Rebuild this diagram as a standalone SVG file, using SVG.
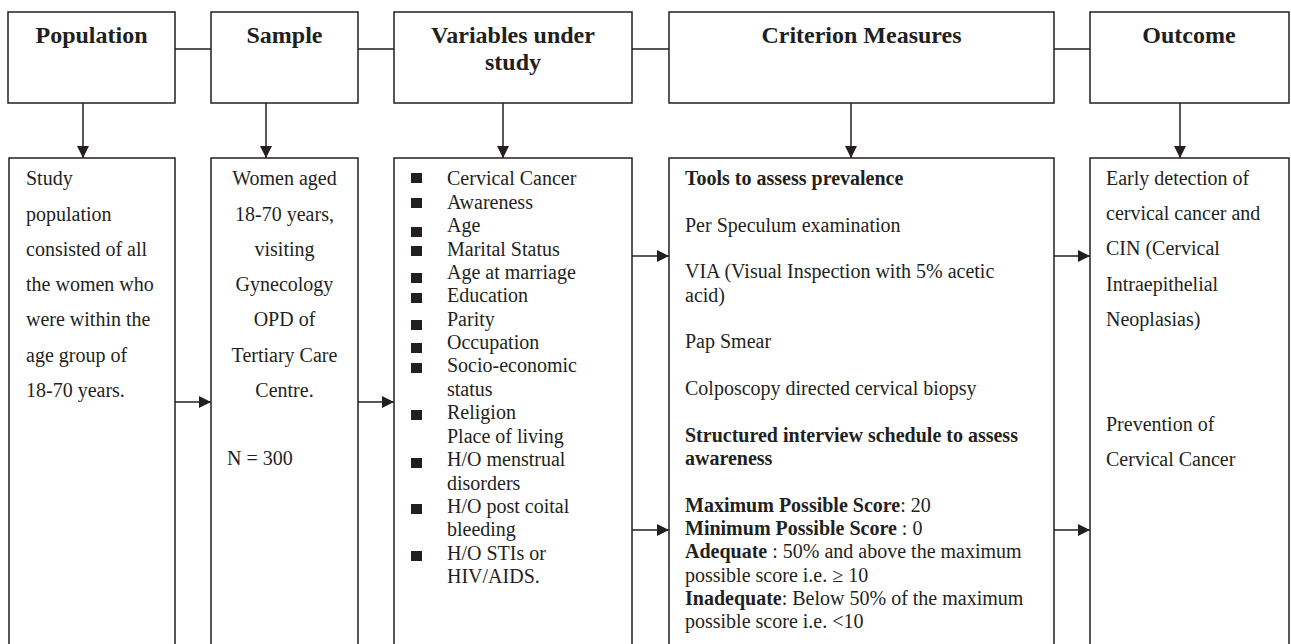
<svg xmlns="http://www.w3.org/2000/svg" width="1291" height="644" viewBox="0 0 1291 644">
<style>
.box{fill:#fff;stroke:#231f20;stroke-width:1.5}
.ln{stroke:#231f20;stroke-width:1.5;fill:none}
.hd{font-family:"Liberation Serif","Times New Roman",serif;font-size:24px;font-weight:bold;fill:#231f20;text-anchor:middle}
.tx{font-family:"Liberation Serif","Times New Roman",serif;font-size:20px;fill:#231f20}
.b{font-weight:bold}
.mid{text-anchor:middle}
.bul{fill:#231f20}
</style>
<defs>
<marker id="ah" viewBox="0 0 12 12" refX="12" refY="6" markerWidth="12" markerHeight="12" markerUnits="userSpaceOnUse" orient="auto">
<path d="M0,0 L12,6 L0,12 Z" fill="#231f20"/>
</marker>
</defs>
<rect width="1291" height="644" fill="#fff"/>
<g id="connectors">
<line class="ln" x1="175" y1="49" x2="211" y2="49"/>
<line class="ln" x1="358" y1="49" x2="394" y2="49"/>
<line class="ln" x1="632" y1="49" x2="669" y2="49"/>
<line class="ln" x1="1054" y1="49" x2="1090" y2="49"/>
<line class="ln" x1="83" y1="103" x2="83" y2="158" marker-end="url(#ah)"/>
<line class="ln" x1="266" y1="103" x2="266" y2="158" marker-end="url(#ah)"/>
<line class="ln" x1="503" y1="103" x2="503" y2="158" marker-end="url(#ah)"/>
<line class="ln" x1="851" y1="103" x2="851" y2="158" marker-end="url(#ah)"/>
<line class="ln" x1="1180" y1="103" x2="1180" y2="158" marker-end="url(#ah)"/>
<line class="ln" x1="175" y1="402" x2="211" y2="402" marker-end="url(#ah)"/>
<line class="ln" x1="358" y1="402" x2="394" y2="402" marker-end="url(#ah)"/>
<line class="ln" x1="632" y1="256" x2="669" y2="256" marker-end="url(#ah)"/>
<line class="ln" x1="632" y1="530" x2="669" y2="530" marker-end="url(#ah)"/>
<line class="ln" x1="1054" y1="256" x2="1090" y2="256" marker-end="url(#ah)"/>
<line class="ln" x1="1054" y1="530" x2="1090" y2="530" marker-end="url(#ah)"/>
</g>
<g id="h-population">
<rect class="box" x="8" y="12" width="167" height="91"/>
<text class="hd" x="91.5" y="43">Population</text>
</g>
<g id="h-sample">
<rect class="box" x="211" y="12" width="147" height="91"/>
<text class="hd" x="284.5" y="43">Sample</text>
</g>
<g id="h-variables">
<rect class="box" x="394" y="12" width="238" height="91"/>
<text class="hd" x="513" y="43">Variables under</text>
<text class="hd" x="513" y="70">study</text>
</g>
<g id="h-criterion">
<rect class="box" x="669" y="12" width="385" height="91"/>
<text class="hd" x="861.5" y="43">Criterion Measures</text>
</g>
<g id="h-outcome">
<rect class="box" x="1090" y="12" width="199" height="91"/>
<text class="hd" x="1189" y="43">Outcome</text>
</g>
<g id="b-population">
<rect class="box" x="9" y="158" width="166" height="500"/>
<text class="tx" x="26" y="185">Study</text>
<text class="tx" x="26" y="221">population</text>
<text class="tx" x="26" y="256">consisted of all</text>
<text class="tx" x="26" y="291">the women who</text>
<text class="tx" x="26" y="326">were within the</text>
<text class="tx" x="26" y="362">age group of</text>
<text class="tx" x="26" y="397">18-70 years.</text>
</g>
<g id="b-sample">
<rect class="box" x="211" y="158" width="147" height="500"/>
<text class="tx mid" x="284.5" y="185">Women aged</text>
<text class="tx mid" x="284.5" y="221">18-70 years,</text>
<text class="tx mid" x="284.5" y="256">visiting</text>
<text class="tx mid" x="284.5" y="291">Gynecology</text>
<text class="tx mid" x="284.5" y="326">OPD of</text>
<text class="tx mid" x="284.5" y="362">Tertiary Care</text>
<text class="tx mid" x="284.5" y="397">Centre.</text>
<text class="tx" x="227" y="465">N = 300</text>
</g>
<g id="b-variables">
<rect class="box" x="394" y="158" width="238" height="500"/>
<rect class="bul" x="411" y="173" width="11" height="10"/>
<rect class="bul" x="411" y="198" width="11" height="10"/>
<rect class="bul" x="411" y="227" width="11" height="10"/>
<rect class="bul" x="411" y="246" width="11" height="10"/>
<rect class="bul" x="411" y="273" width="11" height="10"/>
<rect class="bul" x="411" y="293" width="11" height="10"/>
<rect class="bul" x="411" y="320" width="11" height="10"/>
<rect class="bul" x="411" y="343" width="11" height="10"/>
<rect class="bul" x="411" y="363" width="11" height="10"/>
<rect class="bul" x="411" y="410" width="11" height="10"/>
<rect class="bul" x="411" y="458" width="11" height="10"/>
<rect class="bul" x="411" y="504" width="11" height="10"/>
<rect class="bul" x="411" y="551" width="11" height="10"/>
<text class="tx" x="447" y="185">Cervical Cancer</text>
<text class="tx" x="447" y="208.5">Awareness</text>
<text class="tx" x="447" y="232">Age</text>
<text class="tx" x="447" y="255.5">Marital Status</text>
<text class="tx" x="447" y="279">Age at marriage</text>
<text class="tx" x="447" y="302">Education</text>
<text class="tx" x="447" y="326">Parity</text>
<text class="tx" x="447" y="349">Occupation</text>
<text class="tx" x="447" y="372">Socio-economic</text>
<text class="tx" x="447" y="396">status</text>
<text class="tx" x="447" y="419">Religion</text>
<text class="tx" x="447" y="443">Place of living</text>
<text class="tx" x="447" y="466">H/O menstrual</text>
<text class="tx" x="447" y="490">disorders</text>
<text class="tx" x="447" y="513">H/O post coital</text>
<text class="tx" x="447" y="536">bleeding</text>
<text class="tx" x="447" y="560">H/O STIs or</text>
<text class="tx" x="447" y="583">HIV/AIDS.</text>
</g>
<g id="b-criterion">
<rect class="box" x="669" y="158" width="385" height="500"/>
<text class="tx b" x="685" y="185">Tools to assess prevalence</text>
<text class="tx" x="685" y="232">Per Speculum examination</text>
<text class="tx" x="685" y="278">VIA (Visual Inspection with 5% acetic</text>
<text class="tx" x="685" y="302">acid)</text>
<text class="tx" x="685" y="348">Pap Smear</text>
<text class="tx" x="685" y="395">Colposcopy directed cervical biopsy</text>
<text class="tx b" x="685" y="442">Structured interview schedule to assess</text>
<text class="tx b" x="685" y="465">awareness</text>
<text class="tx" x="685" y="512"><tspan class="b">Maximum Possible Score</tspan>: 20</text>
<text class="tx" x="685" y="535"><tspan class="b">Minimum Possible Score</tspan> : 0</text>
<text class="tx" x="685" y="558"><tspan class="b">Adequate</tspan> : 50% and above the maximum</text>
<text class="tx" x="685" y="582">possible score i.e. ≥ 10</text>
<text class="tx" x="685" y="605"><tspan class="b">Inadequate</tspan>: Below 50% of the maximum</text>
<text class="tx" x="685" y="628">possible score i.e. &lt;10</text>
</g>
<g id="b-outcome">
<rect class="box" x="1090" y="158" width="199" height="500"/>
<text class="tx" x="1106" y="185">Early detection of</text>
<text class="tx" x="1106" y="220">cervical cancer and</text>
<text class="tx" x="1106" y="255">CIN (Cervical</text>
<text class="tx" x="1106" y="291">Intraepithelial</text>
<text class="tx" x="1106" y="326">Neoplasias)</text>
<text class="tx" x="1106" y="431">Prevention of</text>
<text class="tx" x="1106" y="466">Cervical Cancer</text>
</g>
</svg>
